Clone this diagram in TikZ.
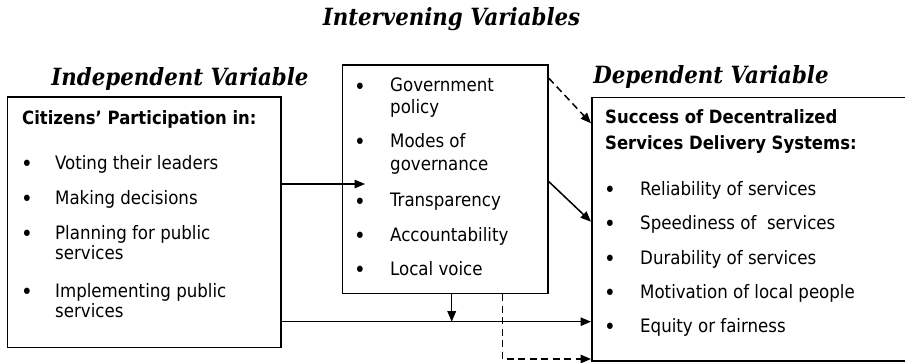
\documentclass[tikz,border=0pt]{standalone}
\usepackage{fontspec}
\setmainfont{DejaVu Sans Condensed}
\newfontfamily\hdrserif{DejaVu Serif Condensed}
\usetikzlibrary{arrows.meta}
\newcommand\bodyfont{\fontsize{18.5}{22}\selectfont}
\newcommand\bulfont{\fontsize{22}{22}\selectfont}
\newcommand\headfont{\fontsize{18.3}{21}\selectfont\bfseries}
\newcommand\titlefont{\fontsize{23.7}{28}\selectfont\hdrserif\bfseries\itshape}
\tikzset{
  boxnode/.style={draw, line width=1.6pt, inner sep=0pt, anchor=north west},
  txt/.style={anchor=base west, inner sep=0pt, font=\bodyfont},
  bul/.style={anchor=base, inner sep=0pt, font=\bulfont, yshift=-2.5pt},
  hd/.style={anchor=base west, inner sep=0pt, font=\headfont},
  ttl/.style={anchor=base, inner sep=0pt, font=\titlefont},
  conn/.style={line width=1.5pt, -{Triangle[length=10.5pt,width=8.5pt]}},
  dconn/.style={conn, dash pattern=on 7pt off 4.5pt},
}
\begin{document}
\begin{tikzpicture}[x=1pt,y=-1pt]
\useasboundingbox (0,0) rectangle (905,362);

% titles
\node[ttl] (tint) at (451.5,25) {Intervening Variables};
\node[ttl] (tind) at (180,85) {Independent Variable};
\node[ttl] (tdep) at (711,83) {Dependent Variable};

% boxes
\node[boxnode, minimum width=273.3pt, minimum height=250.7pt] (ind) at (6.7,96) {};
\node[boxnode, minimum width=205.6pt, minimum height=228.7pt] (mid) at (341.7,64) {};
\node[boxnode, minimum width=330pt, minimum height=263.5pt] (dep) at (591,96.7) {};

% left box text
\node[hd] (indh) at (22,124) {Citizens’ Participation in:};
\node[bul] (ib1) at (27,169) {•};
\node[txt] (i1) at (55,169) {Voting their leaders};
\node[bul] (ib2) at (27,204) {•};
\node[txt] (i2) at (55,204) {Making decisions};
\node[bul] (ib3) at (27,239) {•};
\node[txt] (i3a) at (55,239) {Planning for public};
\node[txt] (i3b) at (55,259) {services};
\node[bul] (ib4) at (27,297) {•};
\node[txt] (i4a) at (55,297) {Implementing public};
\node[txt] (i4b) at (55,317) {services};

% middle box text
\node[bul] (mb1) at (360,91.7) {•};
\node[txt] (m1a) at (390,91.7) {Government};
\node[txt] (m1b) at (390,113) {policy};
\node[bul] (mb2) at (360,147) {•};
\node[txt] (m2a) at (390,147) {Modes of};
\node[txt] (m2b) at (390,170) {governance};
\node[bul] (mb3) at (360,206.7) {•};
\node[txt] (m3) at (390,206.7) {Transparency};
\node[bul] (mb4) at (360,241) {•};
\node[txt] (m4) at (390,241) {Accountability};
\node[bul] (mb5) at (360,275) {•};
\node[txt] (m5) at (390,275) {Local voice};

% right box text
\node[hd] (deph1) at (605,123) {Success of Decentralized};
\node[hd] (deph2) at (605,149) {Services Delivery Systems:};
\node[bul] (db1) at (610,195) {•};
\node[txt] (d1) at (640,195) {Reliability of services};
\node[bul] (db2) at (610,229.3) {•};
\node[txt] (d2) at (640,229.3) {Speediness of\ \ services};
\node[bul] (db3) at (610,264.3) {•};
\node[txt] (d3) at (640,264.3) {Durability of services};
\node[bul] (db4) at (610,298.3) {•};
\node[txt] (d4) at (640,298.3) {Motivation of local people};
\node[bul] (db5) at (610,332.3) {•};
\node[txt] (d5) at (640,332.3) {Equity or fairness};

% connector helper coordinates
\coordinate (upend) at (365,184);
\coordinate (low) at (451.7,321.7);
\coordinate (dcorner) at (502.3,359);
\coordinate (dd1s) at (547.3,78.3);
\coordinate (dd1e) at (590,123.3);
\coordinate (sd1s) at (547.3,181.7);
\coordinate (sd1e) at (590,221.7);

% connectors
\draw[conn] (ind.east |- upend) -- (upend);
\draw[conn] (ind.east |- low) -- (dep.west |- low);
\draw[conn] (mid.south -| low) -- (low);
\draw[dconn] (mid.south -| dcorner) -- (dcorner) -- (dep.west |- dcorner);
\draw[dconn] (mid.east |- dd1s) -- (dep.west |- dd1e);
\draw[conn] (mid.east |- sd1s) -- (dep.west |- sd1e);
\end{tikzpicture}
\end{document}
